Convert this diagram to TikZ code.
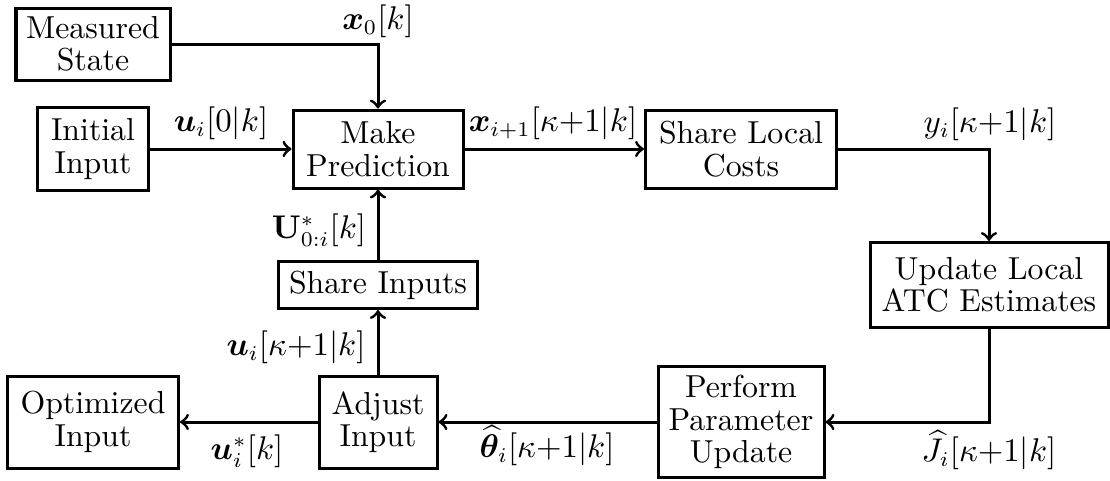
\documentclass[tikz,border=0pt]{standalone}
\usepackage{amsmath,amssymb,bm}
\begin{document}
\begin{tikzpicture}[x=0.3333pt,y=-0.3333pt,
  font=\fontsize{10.6}{10.8}\selectfont,
  blk/.style 2 args={draw,line width=1pt,align=center,inner sep=0pt,
    minimum width=#1*0.3333pt,minimum height=#2*0.3333pt},
  flow/.style={->,line width=1pt},
  lbl/.style={inner sep=0pt}]
\useasboundingbox (0,0) rectangle (1110,480);
% blocks
\node[blk={154}{72}]  (ms)  at (93,44)   {Measured\\State};
\node[blk={111}{83}]  (ii)  at (93,149)  {Initial\\Input};
\node[blk={170}{78}]  (mp)  at (378,149) {Make\\Prediction};
\node[blk={191}{78}]  (slc) at (741,149) {Share Local\\Costs};
\node[blk={238}{85}]  (ul)  at (989,285) {Update Local\\ATC Estimates};
\node[blk={166}{111}] (pp)  at (741,422) {Perform\\Parameter\\Update};
\node[blk={118}{92}]  (ai)  at (378,422) {Adjust\\Input};
\node[blk={171}{92}]  (oi)  at (93,422)  {Optimized\\Input};
\node[blk={199}{47}]  (si)  at (378,285) {Share Inputs};
% connectors
\draw[flow] (ms.east) -| (mp.north);
\draw[flow] (ii.east) -- (mp.west);
\draw[flow] (mp.east) -- (slc.west);
\draw[flow] (slc.east) -| (ul.north);
\draw[flow] (ul.south) |- (pp.east);
\draw[flow] (pp.west) -- (ai.east);
\draw[flow] (ai.west) -- (oi.east);
\draw[flow] (ai.north) -- (si.south);
\draw[flow] (si.north) -- (mp.south);
% signal labels
\node[lbl] (l1) at (378,21)  {$\bm{x}_0[k]$};
\node[lbl] (l2) at (221,123) {$\bm{u}_i[0|k]$};
\node[lbl] (l3) at (553,123) {$\bm{x}_{i+1}[\kappa{+}1|k]$};
\node[lbl] (l4) at (990,124) {$y_i[\kappa{+}1|k]$};
\node[lbl] (l5) at (989,450) {$\widehat{J}_i[\kappa{+}1|k]$};
\node[lbl] (l6) at (547,446) {$\widehat{\bm{\theta}}_i[\kappa{+}1|k]$};
\node[lbl] (l7) at (247,451) {$\bm{u}_i^*[k]$};
\node[lbl] (l8) at (296,347) {$\bm{u}_i[\kappa{+}1|k]$};
\node[lbl] (l9) at (319,230) {$\mathbf{U}_{0:i}^*[k]$};
\end{tikzpicture}
\end{document}
